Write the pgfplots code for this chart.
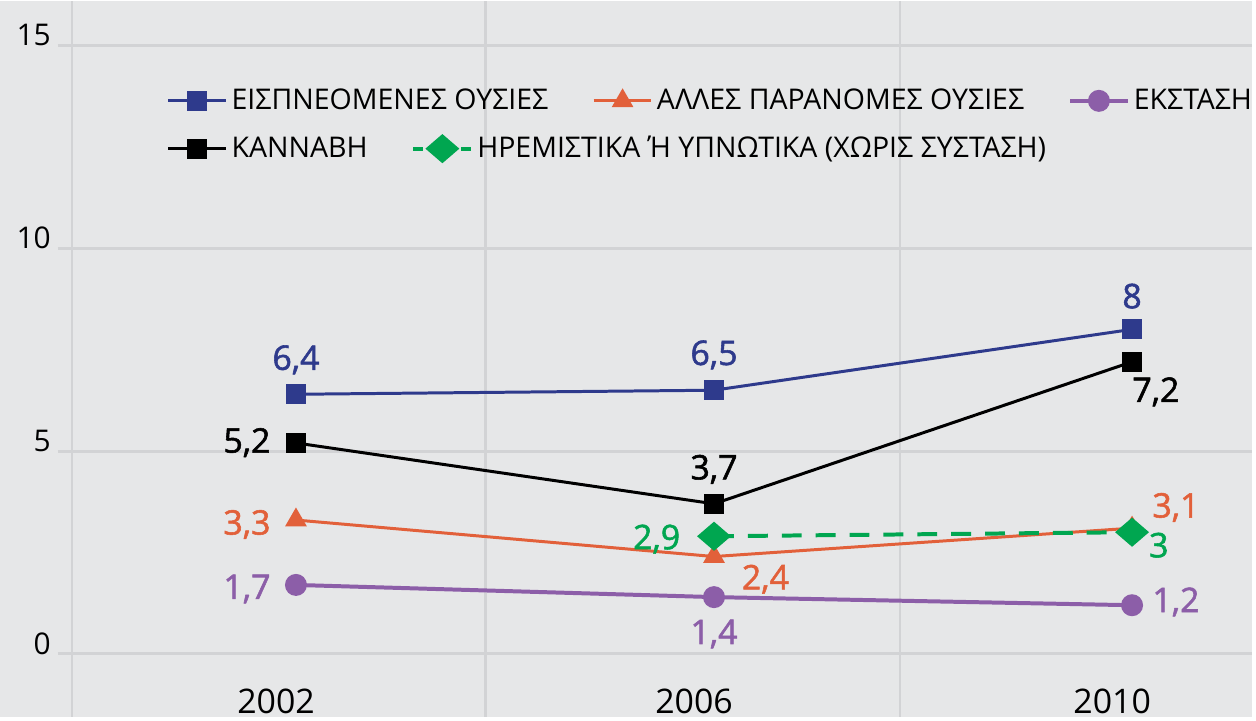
\documentclass[border=0pt]{standalone}
\usepackage{fontspec}
\setmainfont{Open Sans}
\newfontfamily\labfont[FakeBold=1.6]{Open Sans}
\usepackage{pgfplots}
\pgfplotsset{compat=1.18}
\definecolor{bgc}{HTML}{E6E7E8}
\definecolor{gridc}{HTML}{D2D3D5}
\definecolor{cblue}{HTML}{2E3A8C}
\definecolor{corange}{HTML}{E2603A}
\definecolor{cpurple}{HTML}{8C5EA8}
\definecolor{cgreen}{HTML}{00A650}
\tikzset{lab/.style={font=\labfont\fontsize{17}{17}\selectfont, inner sep=0pt}}
\pgfplotsset{
  mylegend/.style={
    legend image code/.code={\draw[mark repeat=2,mark phase=2] plot coordinates {(0pt,0pt)(14.5pt,0pt)(29pt,0pt)};},
    legend style={draw=none, fill=none, inner sep=0pt, anchor=west,
      font=\fontsize{14.3}{16}\selectfont,
      /tikz/every even column/.append style={column sep=20pt}},
    legend columns=-1,
  },
}
\begin{document}
\begin{tikzpicture}
\fill[bgc] (0,0) rectangle (628pt,359pt);
\begin{axis}[
  at={(29pt,0pt)}, anchor=south west, scale only axis,
  width=599pt, height=359pt,
  xmin=-0.5697, xmax=2.286, ymin=-1.548, ymax=16.09,
  axis line style={draw=none}, major tick length=0pt,
  /pgf/number format/assume math mode=true,
  ytick={0,5,10,15}, ymajorgrids,
  grid style={gridc, line width=1.5pt},
  xtick={0,1,2}, xticklabels={2002,2006,2010},
  extra x ticks={-0.536,0.453,1.445}, extra x tick labels={},
  extra x tick style={grid=major, grid style={gridc, line width=1.2pt}},
  yticklabel style={font=\fontsize{15}{15}\selectfont, yshift=5pt},
  xticklabel style={font=\fontsize{17}{17}\selectfont, anchor=south, yshift=-2pt, xshift=-10pt},
  mylegend,
  legend style={at={(rel axis cs:0.091,0.8607)}},
  clip=false,
]
\addplot[cblue, line width=1.5pt, mark=square*, mark size=4.25pt] coordinates {(0,6.4)(1,6.5)(2,8)};
\addlegendentry{ΕΙΣΠΝΕΟΜΕΝΕΣ ΟΥΣΙΕΣ}
\addplot[corange, line width=1.5pt, mark=triangle*, mark size=4.8pt] coordinates {(0,3.3)(1,2.4)(2,3.1)};
\addlegendentry{ΑΛΛΕΣ ΠΑΡΑΝΟΜΕΣ ΟΥΣΙΕΣ}
\addplot[cpurple, line width=2pt, mark=*, mark size=4.5pt] coordinates {(0,1.7)(1,1.4)(2,1.2)};
\addlegendentry{ΕΚΣΤΑΣΗ}
\addplot[cgreen, line width=2pt, dash pattern=on 10pt off 7pt, mark=diamond*, mark size=6pt, mark options={solid, xscale=1.55}, forget plot] coordinates {(1,2.9)(2,3)};
\addplot[black, line width=1.5pt, mark=square*, mark size=4.25pt, forget plot] coordinates {(0,5.2)(1,3.7)(2,7.2)};
% data labels
\node[lab, text=cblue] at (axis cs:0,7.25) {6,4};
\node[lab, text=cblue] at (axis cs:1,7.37) {6,5};
\node[lab, text=cblue] at (axis cs:2,8.82) {8};
\node[lab, text=black, anchor=east] at (axis cs:-0.06,5.21) {5,2};
\node[lab, text=black] at (axis cs:1,4.55) {3,7};
\node[lab, text=black] at (axis cs:2.057,6.46) {7,2};
\node[lab, text=corange, anchor=east] at (axis cs:-0.06,3.19) {3,3};
\node[lab, text=corange] at (axis cs:1.123,1.84) {2,4};
\node[lab, text=corange] at (axis cs:2.105,3.61) {3,1};
\node[lab, text=cgreen, anchor=east] at (axis cs:0.92,2.83) {2,9};
\node[lab, text=cgreen] at (axis cs:2.064,2.68) {3};
\node[lab, text=cpurple, anchor=east] at (axis cs:-0.06,1.6) {1,7};
\node[lab, text=cpurple] at (axis cs:1,0.49) {1,4};
\node[lab, text=cpurple] at (axis cs:2.105,1.28) {1,2};
\end{axis}
\begin{axis}[
  at={(29pt,0pt)}, anchor=south west, scale only axis,
  width=599pt, height=359pt, hide axis,
  xmin=0, xmax=1, ymin=0, ymax=1,
  mylegend,
  legend style={at={(rel axis cs:0.091,0.7939)}},
]
\addlegendimage{black, line width=1.5pt, mark=square*, mark size=4.25pt}
\addlegendentry{ΚΑΝΝΑΒΗ}
\addlegendimage{cgreen, line width=2pt, dash pattern=on 5pt off 3pt, mark=diamond*, mark size=6pt, mark options={solid, xscale=1.55}}
\addlegendentry{ΗΡΕΜΙΣΤΙΚΑ Ή ΥΠΝΩΤΙΚΑ (ΧΩΡΙΣ ΣΥΣΤΑΣΗ)}
\end{axis}
\end{tikzpicture}
\end{document}
